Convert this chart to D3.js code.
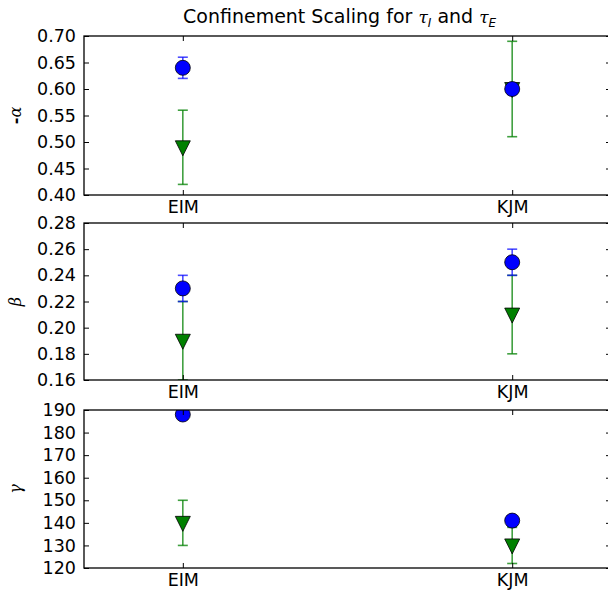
<!DOCTYPE html>
<html>
<head>
<meta charset="utf-8">
<script src="https://cdn.jsdelivr.net/npm/d3@7"></script>
<style>
  body { margin: 0; background: #fff; }
  text { font-family: "DejaVu Sans", sans-serif; }
  .math { font-family: "DejaVu Serif", serif; font-style: italic; }
  .sub { font-family: "DejaVu Sans", sans-serif; font-style: italic; }
</style>
</head>
<body>
<div id="chart"></div>
<script>
// categories on the x axis
var categories = ["EIM", "KJM"];

// -alpha panel
var alphaI = [0.64, 0.60], alphaIErr = [0.02, 0.01];
var alphaE = [0.49, 0.60], alphaEErr = [0.07, 0.09];
var alphaTicks = [0.40, 0.45, 0.50, 0.55, 0.60, 0.65, 0.70];

// beta panel
var betaI = [0.23, 0.25], betaIErr = [0.01, 0.01];
var betaE = [0.19, 0.21], betaEErr = [0.03, 0.03];
var betaTicks = [0.16, 0.18, 0.20, 0.22, 0.24, 0.26, 0.28];

// gamma panel
var gammaI = [188, 141], gammaIErr = [1, 1];
var gammaE = [140, 130], gammaEErr = [10, 8];
var gammaTicks = [120, 130, 140, 150, 160, 170, 180, 190];

var width = 608, height = 592;
var left = 84, right = 611;
var fontSize = "17.5px";

var svg = d3.select("#chart").append("svg")
    .attr("width", width)
    .attr("height", height);

var x = d3.scaleLinear().domain([-0.3, 1.3]).range([left, right]);

// title
var title = svg.append("text")
    .attr("x", 183)
    .attr("y", 23)
    .attr("text-anchor", "start")
    .style("font-size", "19px");
title.append("tspan").text("Confinement Scaling for ");
title.append("tspan").attr("class", "math").style("font-size", "17px").text("τ");
title.append("tspan").attr("class", "sub").attr("dy", 4).style("font-size", "12px").text("I");
title.append("tspan").attr("dy", -4).text(" and ");
title.append("tspan").attr("class", "math").style("font-size", "17px").text("τ");
title.append("tspan").attr("class", "sub").attr("dy", 4).style("font-size", "12px").text("E");

var panels = [
    { top: 36, bottom: 195, domain: [0.40, 0.70], ticks: alphaTicks, fmt: d3.format(".2f"),
      ion: alphaI, ionErr: alphaIErr, ele: alphaE, eleErr: alphaEErr, label: "α", prefix: "-" },
    { top: 223, bottom: 380, domain: [0.16, 0.28], ticks: betaTicks, fmt: d3.format(".2f"),
      ion: betaI, ionErr: betaIErr, ele: betaE, eleErr: betaEErr, label: "β", prefix: "" },
    { top: 410, bottom: 568, domain: [120, 190], ticks: gammaTicks, fmt: d3.format("d"),
      ion: gammaI, ionErr: gammaIErr, ele: gammaE, eleErr: gammaEErr, label: "γ", prefix: "" }
];

panels.forEach(function (p, k) {
    var y = d3.scaleLinear().domain(p.domain).range([p.bottom, p.top]);
    var g = svg.append("g");

    var clipId = "clip" + k;
    svg.append("clipPath").attr("id", clipId)
        .append("rect")
        .attr("x", left).attr("y", p.top)
        .attr("width", right - left).attr("height", p.bottom - p.top);

    var plot = g.append("g").attr("clip-path", "url(#" + clipId + ")");

    function drawSeries(vals, errs, color, errColor, shape) {
        var s = plot.append("g");
        vals.forEach(function (v, i) {
            var cx = x(i);
            var y0 = y(v - errs[i]), y1 = y(v + errs[i]);
            s.append("line")
                .attr("x1", cx).attr("x2", cx).attr("y1", y0).attr("y2", y1)
                .attr("stroke", errColor).attr("stroke-width", 1.6);
            [y0, y1].forEach(function (yy) {
                s.append("line")
                    .attr("x1", cx - 5).attr("x2", cx + 5).attr("y1", yy).attr("y2", yy)
                    .attr("stroke", errColor).attr("stroke-width", 1.6);
            });
        });
        vals.forEach(function (v, i) {
            var cx = x(i), cy = y(v);
            if (shape === "circle") {
                s.append("circle")
                    .attr("cx", cx).attr("cy", cy).attr("r", 7.5)
                    .attr("fill", color).attr("stroke", "#000").attr("stroke-width", 0.8);
            } else {
                s.append("path")
                    .attr("d", "M" + (cx - 7.5) + "," + (cy - 6.5) + "L" + (cx + 7.5) + "," + (cy - 6.5) +
                        "L" + cx + "," + (cy + 8.5) + "Z")
                    .attr("fill", color).attr("stroke", "#000").attr("stroke-width", 0.8);
            }
        });
    }

    drawSeries(p.ele, p.eleErr, "#008000", "rgba(0,128,0,0.75)", "triangle");
    drawSeries(p.ion, p.ionErr, "#0000ff", "rgba(0,0,255,0.7)", "circle");

    // left axis
    var yAxis = d3.axisLeft(y).tickValues(p.ticks).tickFormat(p.fmt).tickSizeInner(-5).tickSizeOuter(0).tickPadding(8);
    var ya = g.append("g").attr("transform", "translate(" + left + ",0)").call(yAxis);
    ya.select(".domain").remove();
    ya.selectAll("text").style("font-size", fontSize).style("font-family", "DejaVu Sans").attr("fill", "#000");
    ya.selectAll("line").attr("stroke", "#000");

    // right ticks
    var yr = d3.axisRight(y).tickValues(p.ticks).tickFormat("").tickSizeInner(-5).tickSizeOuter(0);
    var yra = g.append("g").attr("transform", "translate(" + right + ",0)").call(yr);
    yra.select(".domain").remove();
    yra.selectAll("line").attr("stroke", "#000");

    // bottom axis with category labels
    var xb = d3.axisBottom(x).tickValues([0, 1]).tickFormat(function (d) { return categories[d]; })
        .tickSizeInner(-5).tickSizeOuter(0).tickPadding(6);
    var xba = g.append("g").attr("transform", "translate(0," + p.bottom + ")").call(xb);
    xba.select(".domain").remove();
    xba.selectAll("text").style("font-size", fontSize).style("font-family", "DejaVu Sans").attr("fill", "#000");
    xba.selectAll("line").attr("stroke", "#000");

    var xt = d3.axisTop(x).tickValues([0, 1]).tickFormat("").tickSizeInner(-5).tickSizeOuter(0);
    var xta = g.append("g").attr("transform", "translate(0," + p.top + ")").call(xt);
    xta.select(".domain").remove();
    xta.selectAll("line").attr("stroke", "#000");

    // frame
    g.append("rect")
        .attr("x", left).attr("y", p.top)
        .attr("width", right - left).attr("height", p.bottom - p.top)
        .attr("fill", "none").attr("stroke", "#000").attr("stroke-width", 1.3);

    // y label
    var lbl = svg.append("text")
        .attr("transform", "translate(21," + ((p.top + p.bottom) / 2) + ") rotate(-90)")
        .attr("text-anchor", "middle")
        .style("font-size", "16px");
    if (p.prefix) lbl.append("tspan").style("font-weight", "bold").text(p.prefix);
    lbl.append("tspan").attr("class", "math").style("font-weight", "200").text(p.label);
});
</script>
</body>
</html>
